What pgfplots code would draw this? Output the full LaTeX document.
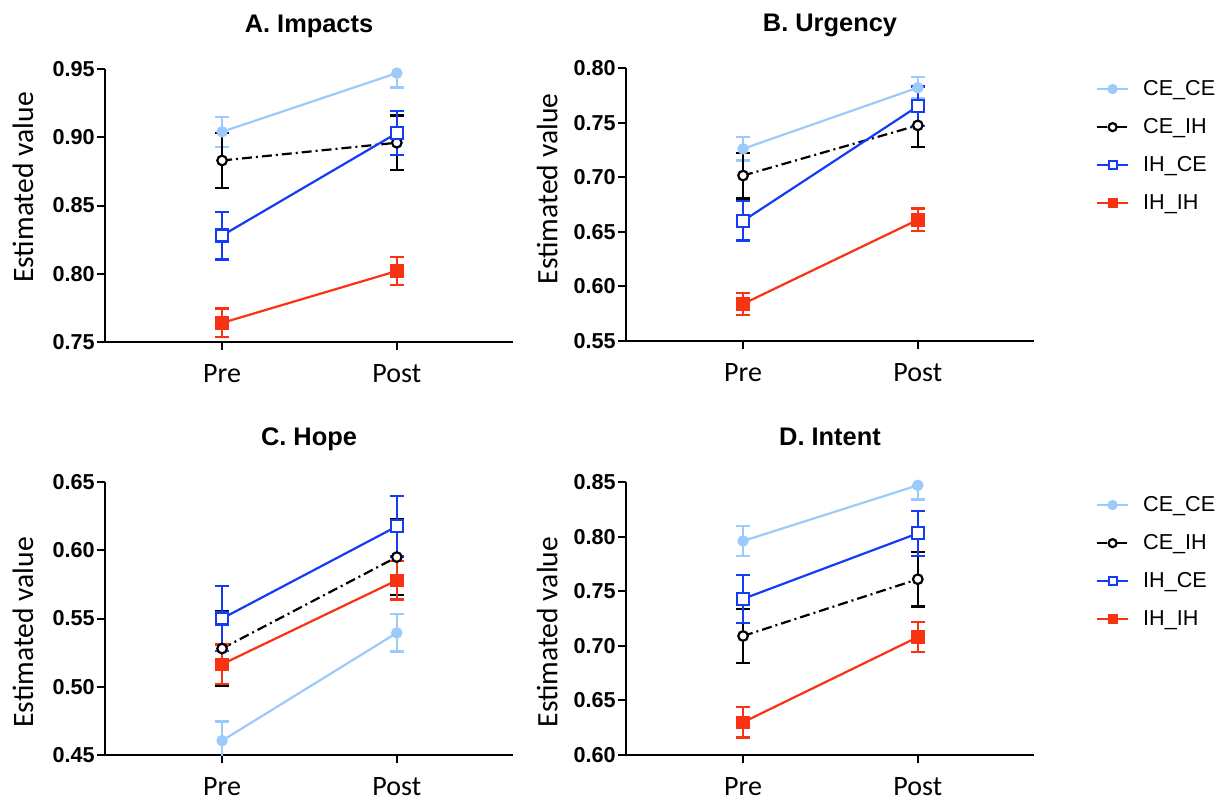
\documentclass[border=0pt]{standalone}
\usepackage{fontspec}
\setmainfont{Liberation Sans}
\newfontfamily\calib{Carlito}
\usepackage{pgfplots}
\pgfplotsset{compat=1.18}
\definecolor{lightb}{RGB}{156,202,250}
\definecolor{blueP}{RGB}{20,60,245}
\definecolor{redP}{RGB}{250,50,20}

\pgfplotsset{
  legend image code/.code={\draw[mark repeat=2,mark phase=2,#1,mark size=2pt]
    plot coordinates {(0pt,0pt) (7.75pt,0pt) (15.5pt,0pt)};},
  panel/.style={
    width=204pt, height=136.5pt, scale only axis,
    anchor=south west,
    axis lines*=left,
    axis line style={line width=1pt},
    tick align=outside, major tick length=4pt,
    tick style={line width=1pt, black},
    xmin=0.33, xmax=2.665,
    xtick={1,2}, xticklabels={Pre,Post},
    minor tick num=0,
    /pgf/number format/assume math mode=true,
    yticklabel style={/pgf/number format/.cd, fixed, fixed zerofill, precision=2,
      /tikz/.cd, font=\bfseries\fontsize{10.8}{12}\selectfont, inner sep=1pt},
    xticklabel style={font=\calib\fontsize{14}{16}\selectfont, anchor=base, yshift=-16pt},
    ylabel={Estimated value},
    title style={font=\bfseries\fontsize{12.7}{14}\selectfont,
      at={(axis description cs:0.5,1)}, anchor=base, yshift=12.5pt},
    error bars/y dir=both, error bars/y explicit,
    error bars/error bar style={solid, line width=1.1pt},
    error bars/error mark options={rotate=90, mark size=3.4pt, line width=1.1pt, solid},
    legend style={draw=none, fill=none, inner sep=0pt, outer sep=0pt,
      font=\fontsize{10.8}{12}\selectfont, row sep=8pt,
      nodes={inner sep=1pt}, anchor=north west,
      /tikz/every odd column/.append style={column sep=6pt}},
    legend cell align=left,
  },
  ylab/.style 2 args={ylabel style={font=\calib\fontsize{14.8}{16}\selectfont,
      at={(axis description cs:#1,#2)}, anchor=center}},
  sCC/.style={lightb, line width=1.1pt, mark=*, mark size=2.3pt, mark options={solid}},
  sCI/.style={black, line width=1.1pt, dash pattern=on 5pt off 2pt on 1pt off 2pt,
      mark=*, mark size=2.4pt, mark options={solid, fill=white}},
  sIC/.style={blueP, line width=1.1pt, mark=square*, mark size=3pt, mark options={solid, fill=white}},
  sII/.style={redP, line width=1.1pt, mark=square*, mark size=2.8pt, mark options={solid}},
}

\begin{document}
\begin{tikzpicture}
\useasboundingbox (0,0) rectangle (612.5pt,-402.5pt);

% A. Impacts
\begin{axis}[panel, at={(52.5pt,-171pt)}, title={A. Impacts}, ylab={-0.201}{0.566},
  ymin=0.75, ymax=0.95, ytick={0.75,0.80,0.85,0.90,0.95}]
  \addplot[sCC] coordinates {(1,0.904) +- (0,0.011) (2,0.947) +- (0,0.0105)};
  \addplot[sCI] coordinates {(1,0.883) +- (0,0.020) (2,0.896) +- (0,0.020)};
  \addplot[sIC] coordinates {(1,0.828) +- (0,0.0175) (2,0.903) +- (0,0.016)};
  \addplot[sII] coordinates {(1,0.764) +- (0,0.0105) (2,0.802) +- (0,0.0104)};
\end{axis}

% B. Urgency
\begin{axis}[panel, at={(313pt,-170.5pt)}, title={B. Urgency}, ylab={-0.193}{0.557},
  ymin=0.55, ymax=0.80, ytick={0.55,0.60,0.65,0.70,0.75,0.80},
  legend style={at={(axis description cs:1,1)}, xshift=31pt, yshift=-5pt}]
  \addplot[sCC] coordinates {(1,0.726) +- (0,0.0107) (2,0.782) +- (0,0.010)};
  \addplot[sCI] coordinates {(1,0.7015) +- (0,0.021) (2,0.7475) +- (0,0.020)};
  \addplot[sIC] coordinates {(1,0.660) +- (0,0.018) (2,0.765) +- (0,0.018)};
  \addplot[sII] coordinates {(1,0.584) +- (0,0.0103) (2,0.661) +- (0,0.0103)};
  \legend{CE\_CE,CE\_IH,IH\_CE,IH\_IH}
\end{axis}

% C. Hope
\begin{axis}[panel, at={(52.5pt,-377.5pt)}, title={C. Hope}, ylab={-0.201}{0.449},
  ymin=0.45, ymax=0.65, ytick={0.45,0.50,0.55,0.60,0.65}]
  \addplot[sCC] coordinates {(1,0.4605) +- (0,0.014) (2,0.5395) +- (0,0.0136)};
  \addplot[sCI] coordinates {(1,0.528) +- (0,0.0274) (2,0.595) +- (0,0.028)};
  \addplot[sIC] coordinates {(1,0.550) +- (0,0.0236) (2,0.6175) +- (0,0.022)};
  \addplot[sII] coordinates {(1,0.5165) +- (0,0.0145) (2,0.578) +- (0,0.014)};
\end{axis}

% D. Intent
\begin{axis}[panel, at={(313pt,-377.5pt)}, title={D. Intent}, ylab={-0.193}{0.45},
  ymin=0.60, ymax=0.85, ytick={0.60,0.65,0.70,0.75,0.80,0.85},
  legend style={at={(axis description cs:1,1)}, xshift=31pt, yshift=-6pt}]
  \addplot[sCC] coordinates {(1,0.796) +- (0,0.0137) (2,0.847) +- (0,0.013)};
  \addplot[sCI] coordinates {(1,0.709) +- (0,0.025) (2,0.761) +- (0,0.025)};
  \addplot[sIC] coordinates {(1,0.743) +- (0,0.022) (2,0.803) +- (0,0.0205)};
  \addplot[sII] coordinates {(1,0.630) +- (0,0.014) (2,0.708) +- (0,0.014)};
  \legend{CE\_CE,CE\_IH,IH\_CE,IH\_IH}
\end{axis}
\end{tikzpicture}
\end{document}
